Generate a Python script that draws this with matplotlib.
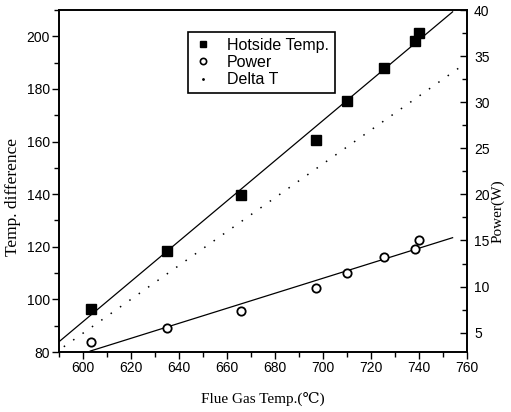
import matplotlib
matplotlib.use("Agg")
import matplotlib.pyplot as plt
from matplotlib.lines import Line2D
from matplotlib.ticker import MultipleLocator
from matplotlib import font_manager

# ---- data ----
flue_temp = [603.5, 635.2, 666.0, 697.2, 710.2, 725.4, 738.2, 740.0]
hotside_temp = [96.3, 118.5, 139.5, 160.5, 175.4, 188.1, 198.2, 201.4]
power_w = [4.0, 5.5, 7.3, 9.8, 11.5, 13.2, 14.1, 15.0]

hot_fit_x = [590, 754]
hot_fit_y = [83.9, 209.3]
power_fit_x = [603, 754]
power_fit_y = [3.0, 15.3]
delta_x = [592, 759]
delta_y = [82.0, 189.5]

x_ticks = [600, 620, 640, 660, 680, 700, 720, 740, 760]
left_ticks = [80, 100, 120, 140, 160, 180, 200]
right_ticks = [5, 10, 15, 20, 25, 30, 35, 40]

installed = {f.name for f in font_manager.fontManager.ttflist}
tick_font = ['Liberation Sans Narrow'] if 'Liberation Sans Narrow' in installed else ['Liberation Sans']
tick_font = tick_font + ['DejaVu Sans']
sans = ['Liberation Sans', 'DejaVu Sans']
serif = ['Liberation Serif', 'DejaVu Serif']

fig = plt.figure(figsize=(5.11, 4.12), dpi=100)
ax = fig.add_axes([59/511, 1-352/412, (467-59)/511, (352-10)/412])
ax2 = ax.twinx()

ax.set_xlim(590, 760)
ax.set_ylim(80, 210)
ax2.set_ylim(2.9, 40)

ax.plot(hot_fit_x, hot_fit_y, color='black', lw=0.9)
ax.plot(flue_temp, hotside_temp, linestyle='none', marker='s', ms=6.5,
        color='black')
ax.plot(delta_x, delta_y, color='black', lw=1.1, linestyle=(0, (1.0, 6.5)))
ax2.plot(power_fit_x, power_fit_y, color='black', lw=0.9)
ax2.plot(flue_temp, power_w, linestyle='none', marker='o', ms=6,
         mfc='white', mec='black', mew=1.3)

ax.set_xticks(x_ticks)
ax.xaxis.set_minor_locator(MultipleLocator(10))
ax.set_yticks(left_ticks)
ax.yaxis.set_minor_locator(MultipleLocator(10))
ax2.set_yticks(right_ticks)
ax2.yaxis.set_minor_locator(MultipleLocator(2.5))

ax.tick_params(axis='both', which='major', direction='out', length=5,
               width=1.0, pad=1.5, labelsize=10)
ax.tick_params(axis='both', which='minor', direction='out', length=3.5,
               width=1.0)
ax.tick_params(axis='x', top=False, which='both')
ax2.tick_params(axis='y', which='major', direction='in', length=5,
                width=1.0, pad=5, labelsize=10)
ax2.tick_params(axis='y', which='minor', direction='in', length=3.5,
                width=1.0)
for lab in ax.get_xticklabels() + ax.get_yticklabels() + ax2.get_yticklabels():
    lab.set_family(tick_font)

for a in (ax, ax2):
    for s in a.spines.values():
        s.set_linewidth(1.2)

fig.text(13/511, 1-196.7/412, 'Temp. difference', rotation=90,
         ha='center', va='center', fontsize=12.5, family=serif)
fig.text(498/511, 1-211.5/412, 'Power(W)', rotation=90,
         ha='center', va='center', fontsize=11, family=serif)
fig.text(263/511, 1-399/412, 'Flue Gas Temp.(\u2103)',
         ha='center', va='center', fontsize=11, family=serif)

handles = [
    Line2D([], [], linestyle='none', marker='s', ms=4.5, color='black'),
    Line2D([], [], linestyle='none', marker='o', ms=4.5, mfc='white',
           mec='black', mew=1.2),
    Line2D([], [], linestyle='none', marker='.', ms=2, color='black'),
]
labels = ['Hotside Temp.', 'Power', 'Delta T']
leg = ax.legend(handles, labels, loc='upper left',
                bbox_to_anchor=((188-59)/408, (352-32)/342),
                borderaxespad=0, frameon=True, fancybox=False,
                edgecolor='black', framealpha=1, handlelength=1.2,
                handletextpad=0.9, labelspacing=0.15, borderpad=0.35,
                prop={'family': sans, 'size': 11.5})
leg.get_frame().set_linewidth(1.2)

fig.savefig('out.png', dpi=100)
